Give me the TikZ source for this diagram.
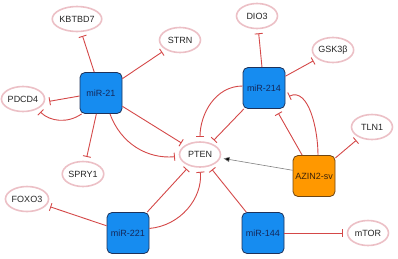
\documentclass[tikz,border=0pt]{standalone}
\usepackage{fontspec}
\setmainfont{Liberation Sans}
\usetikzlibrary{arrows.meta,shapes.geometric}
\definecolor{edgered}{RGB}{212,72,72}
\definecolor{elpink}{RGB}{236,192,198}
\definecolor{boxblue}{RGB}{22,140,240}
\definecolor{boxborder}{RGB}{30,50,90}
\definecolor{boxtext}{RGB}{20,40,90}
\definecolor{azorange}{RGB}{255,152,0}
\definecolor{azborder}{RGB}{110,70,20}
\definecolor{aztext}{RGB}{60,35,10}
\tikzset{
  gene/.style={ellipse, draw=elpink, line width=1.6pt, fill=white, minimum width=41pt, minimum height=25pt, inner sep=0pt, text=black!85, font=\fontsize{9}{10}\selectfont},
  mirbox/.style={rectangle, rounded corners=5pt, draw=boxborder, line width=0.8pt, fill=boxblue, minimum width=42pt, minimum height=41pt, inner sep=0pt, text=boxtext, font=\fontsize{9}{10}\selectfont},
  azbox/.style={mirbox, fill=azorange, draw=azborder, text=aztext},
  inhib/.style={draw=edgered, line width=0.9pt, -{Bar[width=8pt,line width=0.9pt]}, shorten >=4pt},
  activ/.style={draw=gray, line width=0.6pt, -{Triangle[length=6pt,width=5pt,fill=black]}, shorten >=3pt}
}
\begin{document}
\begin{tikzpicture}[x=1pt,y=-1pt]
\useasboundingbox (0,0) rectangle (398,258);
% nodes
\node[gene] (kb) at (77,19) {KBTBD7};
\node[gene] (st) at (180,40) {STRN};
\node[gene] (pd) at (23,99) {PDCD4};
\node[gene] (dio) at (257,16) {DIO3};
\node[gene] (gsk) at (333,50) {GSK3β};
\node[gene] (tln) at (372,127) {TLN1};
\node[gene] (pt) at (200,154.5) {PTEN};
\node[gene] (sp) at (83,174) {SPRY1};
\node[gene] (fox) at (27,199) {FOXO3};
\node[gene] (mtor) at (368,233) {mTOR};
\node[mirbox] (m21) at (101,93) {miR-21};
\node[mirbox] (m214) at (264,88) {miR-214};
\node[azbox] (az) at (314,176) {AZIN2-sv};
\node[mirbox] (m221) at (128,233) {miR-221};
\node[mirbox] (m144) at (263,233) {miR-144};
% miR-21
\draw[inhib] (m21) -- (kb);
\draw[inhib] (m21) -- (st);
\draw[inhib] (m21.west |- pd.center) ++(0,-3) -- ([yshift=-3pt]pd.east);
\draw[inhib] ([xshift=2pt]m21.south west) to[out=-145,in=-45] (pd.-35);
\draw[inhib] (m21) -- (sp);
\draw[inhib] (m21) -- (pt);
\draw[inhib] ([xshift=9pt]m21.south) to[out=-70,in=185] (pt.185);
% miR-214
\draw[inhib] (m214) -- (dio);
\draw[inhib] (m214) -- (gsk);
\draw[inhib] (m214) -- (pt);
\draw[inhib] ([yshift=2pt]m214.west) to[out=180,in=90] (pt.north);
% AZIN2-sv
\draw[inhib, shorten >=5pt] (az) -- (m214);
\draw[inhib] ([xshift=4pt]az.north) to[out=90,in=25] (m214.-25);
\draw[inhib] (az) -- (tln);
\draw[activ] (az.165) -- (pt);
% miR-221
\draw[inhib] (m221) -- (fox);
\draw[inhib] (m221) -- (pt);
\draw[inhib] (m221.12) to[out=5,in=-85] (pt.south);
% miR-144
\draw[inhib] (m144) -- (pt);
\draw[inhib] (m144) -- (mtor);
\end{tikzpicture}
\end{document}
